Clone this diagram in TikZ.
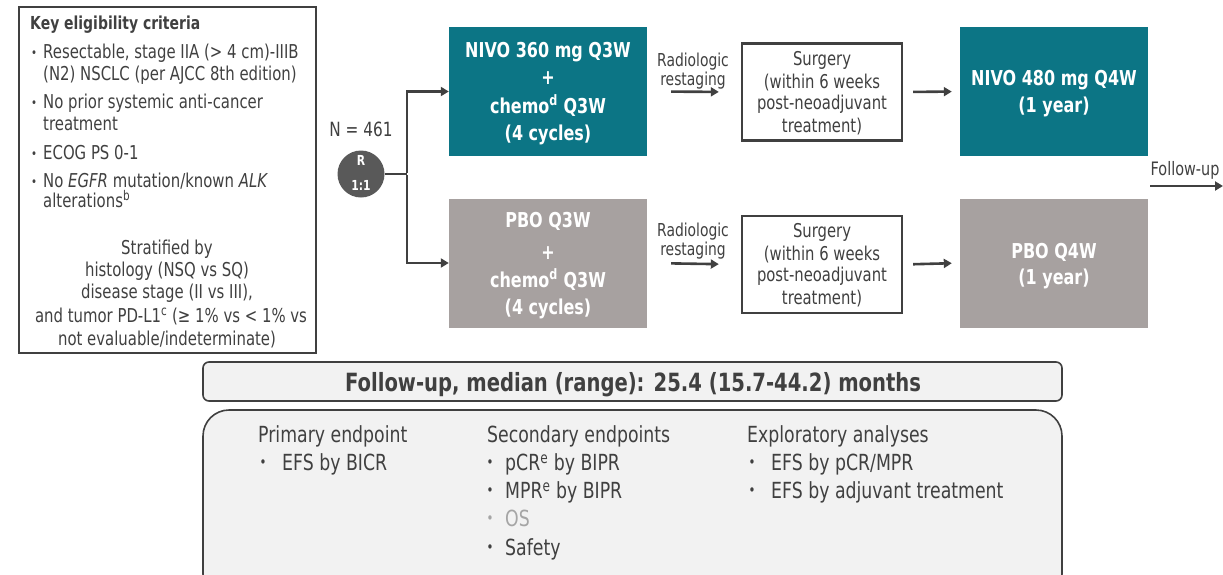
\documentclass[tikz,border=0pt]{standalone}
\usepackage{fontspec}
\setmainfont{DejaVu Sans}[FakeStretch=0.78]
\usetikzlibrary{arrows.meta}
\definecolor{tealb}{RGB}{12,117,133}
\definecolor{grayb}{RGB}{167,161,160}
\definecolor{dk}{RGB}{64,64,64}
\definecolor{rc}{RGB}{89,89,89}
\definecolor{lgf}{RGB}{242,242,242}
\definecolor{osg}{RGB}{165,165,165}
\tikzset{
  txt/.style={inner sep=0pt, text height=13.9pt, text depth=0pt, text=dk, font=\fontsize{19.1}{22}\selectfont},
  ltxt/.style={txt, anchor=west},
  rtxt/.style={txt, text height=13pt, font=\fontsize{17.8}{20}\selectfont},
  stxt/.style={txt, text height=13.9pt, font=\fontsize{19}{22}\selectfont},
  bul/.style={inner sep=0pt, text=dk, anchor=west, font=\fontsize{13}{14}\selectfont, text height=8.6pt, text depth=0pt},
  wtxt/.style={inner sep=0pt, text height=15pt, text depth=0pt, text=white, font=\fontsize{20.5}{24}\bfseries\selectfont},
  armbox/.style={draw=none, minimum width=198pt, minimum height=129pt, inner sep=0pt},
  surgbox/.style={draw=dk, line width=2.4pt, fill=white, minimum width=160pt, minimum height=97pt, inner sep=0pt},
  adjbox/.style={draw=none, minimum width=188pt, minimum height=129pt, inner sep=0pt},
  arr/.style={draw=dk, line width=2.6pt, -{Triangle[length=8pt,width=9pt]}},
  plain/.style={draw=dk, line width=2.6pt},
  btxt/.style={inner sep=0pt, text height=16.2pt, text depth=0pt, text=dk, anchor=west, font=\fontsize{22.2}{25}\selectfont},
  bbul/.style={inner sep=0pt, text height=9.9pt, text depth=0pt, text=dk, font=\fontsize{15}{16}\selectfont},
  rlab/.style={inner sep=0pt, text=white, font=\fontsize{13.8}{15}\bfseries\selectfont},
}
\begin{document}
\begin{tikzpicture}[x=1pt,y=-1pt]
\useasboundingbox (0,0) rectangle (1223,574);
% eligibility box
\node[draw=dk, line width=2pt, minimum width=297pt, minimum height=346pt, inner sep=0pt] (elig) at (167.5,180) {};
\node[ltxt, text height=13.1pt, font=\fontsize{17.9}{20}\bfseries\selectfont] (kt) at (30,22.5) {Key eligibility criteria};
\node[bul] (b1) at (31,53) {•};
\node[ltxt] (e1) at (43,52) {Resectable, stage IIA (> 4 cm)-IIIB};
\node[ltxt] (e2) at (43,74) {(N2) NSCLC (per AJCC 8th edition)};
\node[bul] (b2) at (31,103) {•};
\node[ltxt] (e3) at (43,102) {No prior systemic anti-cancer};
\node[ltxt] (e4) at (43,124) {treatment};
\node[bul] (b3) at (31,154) {•};
\node[ltxt] (e5) at (43,153) {ECOG PS 0-1};
\node[bul] (b4) at (31,182) {•};
\node[ltxt] (e6) at (43,181) {No \textit{EGFR} mutation/known \textit{ALK}};
\node[ltxt] (e7) at (43,201) {alterations\textsuperscript{b}};
\node[txt] (s1) at (167,248) {Stratified by};
\node[txt] (s2) at (167,270) {histology (NSQ vs SQ)};
\node[txt] (s3) at (167,292) {disease stage (II vs III),};
\node[txt] (s4) at (171,316) {and tumor PD-L1\textsuperscript{c} (≥ 1\% vs < 1\% vs};
\node[txt] (s5) at (167,339) {not evaluable/indeterminate)};
% randomisation
\node[txt, text height=14.3pt, font=\fontsize{19.6}{22}\selectfont] (N) at (361,129) {N = 461};
\node[circle, fill=rc, minimum size=47pt, inner sep=0pt] (R) at (361,174) {};
\node[rlab] (Rl) at (361,160.5) {R};
\node[rlab] (Rr) at (361,185.5) {1:1};
\coordinate (br) at (407,174);
% arm boxes
\node[armbox, fill=tealb] (nivo1) at (548,91.5) {};
\node[armbox, fill=grayb] (pbo1) at (548,263) {};
\node[wtxt] (n1a) at (548,50) {NIVO 360 mg Q3W};
\node[wtxt] (n1b) at (548,77) {+};
\node[wtxt] (n1c) at (548,106) {chemo\textsuperscript{d} Q3W};
\node[wtxt] (n1d) at (548,133) {(4 cycles)};
\node[wtxt] (p1a) at (548,220) {PBO Q3W};
\node[wtxt] (p1b) at (548,252) {+};
\node[wtxt] (p1c) at (548,280) {chemo\textsuperscript{d} Q3W};
\node[wtxt] (p1d) at (548,307) {(4 cycles)};
\draw[plain] (R.east) -- (br);
\draw[arr] ([yshift=1.3pt]br) |- (nivo1.west);
\draw[arr] ([yshift=-1.3pt]br) |- (pbo1.west);
% restaging
\node[rtxt] (r1a) at (693,60) {Radiologic};
\node[rtxt] (r1b) at (693,79) {restaging};
\node[rtxt] (r2a) at (693,230) {Radiologic};
\node[rtxt] (r2b) at (693,249) {restaging};
% surgery boxes
\node[surgbox] (surg1) at (822,92) {};
\node[surgbox] (surg2) at (822,264.5) {};
\node[stxt] (g1a) at (822,59) {Surgery};
\node[stxt] (g1b) at (822,82) {(within 6 weeks};
\node[stxt] (g1c) at (822,103) {post-neoadjuvant};
\node[stxt] (g1d) at (822,126) {treatment)};
\node[stxt] (g2a) at (822,231) {Surgery};
\node[stxt] (g2b) at (822,254) {(within 6 weeks};
\node[stxt] (g2c) at (822,275) {post-neoadjuvant};
\node[stxt] (g2d) at (822,298) {treatment)};
\draw[arr, shorten <=24pt, shorten >=22pt] (nivo1.east) -- (surg1.west);
\draw[arr, shorten <=24pt, shorten >=22pt] (pbo1.east) -- (surg2.west);
% adjuvant
\node[adjbox, fill=tealb] (nivo2) at (1054,91.5) {};
\node[adjbox, fill=grayb] (pbo2) at (1054,263) {};
\node[wtxt] (n2a) at (1054,78) {NIVO 480 mg Q4W};
\node[wtxt] (n2b) at (1054,105) {(1 year)};
\node[wtxt] (p2a) at (1054,251) {PBO Q4W};
\node[wtxt] (p2b) at (1054,277) {(1 year)};
\draw[arr, shorten <=10pt, shorten >=8pt] (surg1.east) -- (nivo2.west);
\draw[arr, shorten <=10pt, shorten >=8pt] (surg2.east) -- (pbo2.west);
% follow-up
\node[txt, text height=13.5pt, font=\fontsize{18.5}{21}\selectfont] (fut) at (1185,169) {Follow-up};
\coordinate (fus) at (1150,186);
\coordinate (fue) at (1223,186);
\draw[arr] (fus) -- (fue);
% median box
\node[draw=dk, line width=1.6pt, fill=lgf, rounded corners=6pt, minimum width=859pt, minimum height=39pt, inner sep=0pt] (med) at (632.5,381.5) {};
\node[txt, text height=18.3pt, font=\fontsize{25.1}{28}\bfseries\selectfont] (medt) at (633,382) {Follow-up, median (range): 25.4 (15.7-44.2) months};
% endpoints box
\draw[draw=dk, line width=1.6pt, fill=lgf, rounded corners=26pt] (203,410) rectangle (1062,600);
\node[btxt] (pe) at (258,434) {Primary endpoint};
\node[bbul] (pb1) at (263,463) {•};
\node[btxt] (pe1) at (282,462.5) {EFS by BICR};
\node[btxt] (se) at (487,434) {Secondary endpoints};
\node[bbul] (sb1) at (490,463) {•};
\node[btxt] (se1) at (505,462.5) {pCR\textsuperscript{e} by BIPR};
\node[bbul] (sb2) at (490,491) {•};
\node[btxt] (se2) at (505,490.5) {MPR\textsuperscript{e} by BIPR};
\node[bbul, text=osg] (sb3) at (490,519) {•};
\node[btxt, text=osg] (se3) at (505,518.5) {OS};
\node[bbul] (sb4) at (490,548) {•};
\node[btxt] (se4) at (505,547.5) {Safety};
\node[btxt] (xe) at (747,434) {Exploratory analyses};
\node[bbul] (xb1) at (752,463) {•};
\node[btxt] (xe1) at (771,462.5) {EFS by pCR/MPR};
\node[bbul] (xb2) at (752,491) {•};
\node[btxt] (xe2) at (771,490.5) {EFS by adjuvant treatment};
\end{tikzpicture}
\end{document}
